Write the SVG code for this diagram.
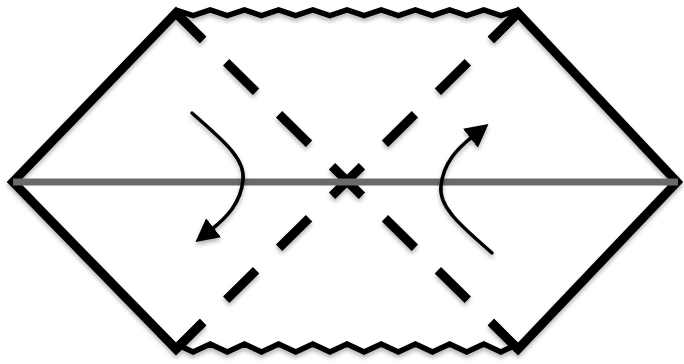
<svg xmlns="http://www.w3.org/2000/svg" width="684" height="364" viewBox="0 0 684 364">
  <defs>
    <filter id="sh" x="-10%" y="-10%" width="120%" height="130%">
      <feDropShadow dx="0" dy="3" stdDeviation="2" flood-color="#000" flood-opacity="0.3"/>
    </filter>
    <marker id="ah" markerUnits="userSpaceOnUse" markerWidth="26" markerHeight="28" viewBox="0 -14 26 28" refX="2" refY="0" orient="auto">
      <path d="M0,-12 L23,0 L0,12 z" fill="#000"/>
    </marker>
  </defs>
  <style>
    .edge { fill: none; stroke: #000; stroke-width: 9; stroke-linejoin: miter; stroke-miterlimit: 10; stroke-linecap: butt; }
    .sing { fill: none; stroke: #000; stroke-width: 5.5; stroke-linejoin: miter; stroke-miterlimit: 10; }
    .horizon { fill: none; stroke: #000; stroke-width: 9; stroke-linecap: butt; stroke-dasharray: 42 32.2; stroke-dashoffset: 3.9; }
    .axis { fill: none; stroke: #6a6a6a; stroke-width: 7; }
    .flow { fill: none; stroke: #000; stroke-width: 3.5; stroke-linecap: round; marker-end: url(#ah); }
  </style>
  <rect width="684" height="364" fill="#fff"/>
  <g id="boundary" filter="url(#sh)">
    <path class="edge" d="M203,40 L176,13 L13,182 L176,349 L203,322"/>
    <path class="edge" d="M491,40 L518,13 L677,182 L518,349 L491,322"/>
    <path class="sing" d="M176,10 L193.1,15.5 L210.2,10 L227.3,15.5 L244.4,10 L261.5,15.5 L278.6,10 L295.7,15.5 L312.8,10 L329.9,15.5 L347,10 L364.1,15.5 L381.2,10 L398.3,15.5 L415.4,10 L432.5,15.5 L449.6,10 L466.7,15.5 L483.8,10 L500.9,15.5 L518,10"/>
    <path class="sing" d="M176,344 L193.1,352 L210.2,344 L227.3,352 L244.4,344 L261.5,352 L278.6,344 L295.7,352 L312.8,344 L329.9,352 L347,344 L364.1,352 L381.2,344 L398.3,352 L415.4,344 L432.5,352 L449.6,344 L466.7,352 L483.8,344 L500.9,352 L518,344"/>
    <line class="horizon" x1="176" y1="13" x2="518" y2="349"/>
    <line class="horizon" x1="518" y1="13" x2="176" y2="349"/>
  </g>
  <g id="axis">
    <line class="axis" x1="13" y1="182" x2="678" y2="182"/>
  </g>
  <g id="connectors" filter="url(#sh)">
    <path class="flow" d="M192,113 C220,138 246,158 243,180 C241,203 226,218 212,229"/>
    <path class="flow" d="M192,113 C220,138 246,158 243,180 C241,203 226,218 212,229" transform="rotate(180 342 183)"/>
  </g>
</svg>
